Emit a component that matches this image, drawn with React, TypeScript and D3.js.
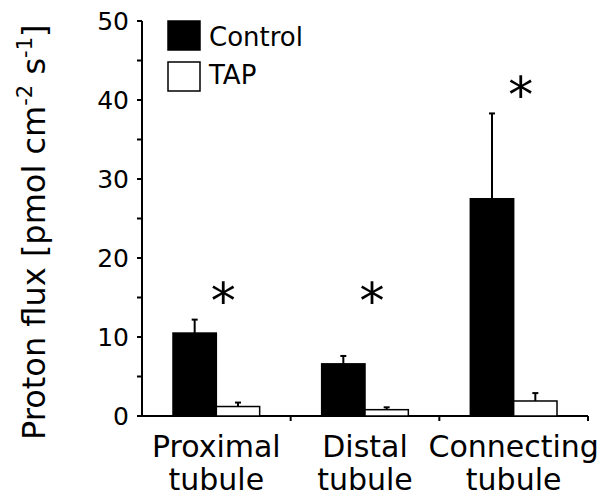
import React, { useEffect, useRef } from "react";
import * as d3 from "d3";

// chart values
const categories = ["Proximal tubule", "Distal tubule", "Connecting tubule"];
const groups = ["Control", "TAP"];
const controlMean = [10.5, 6.6, 27.5];
const controlErr = [1.7, 1.0, 10.8];
const tapMean = [1.2, 0.8, 1.9];
const tapErr = [0.5, 0.3, 1.0];
// where the significance stars sit (in data units)
const starLevel = [15.7, 15.7, 41.8];
const yTicks = [0, 10, 20, 30, 40, 50];

const FONT = "DejaVu Sans, Verdana, sans-serif";

const App = () => {
    const ref = useRef<SVGSVGElement>(null);

    useEffect(() => {
        const svg = d3.select(ref.current);
        svg.selectAll("*").remove();

        const left = 142, right = 588, top = 21, bottom = 416;

        const x = d3.scaleBand().domain(categories).range([left, right]);
        const inner = d3.scaleBand().domain(groups).range([31, x.bandwidth() - 31]);
        const y = d3.scaleLinear().domain([0, 50]).range([bottom, top]);

        // y axis line + ticks
        svg.append("line")
            .attr("x1", left).attr("x2", left)
            .attr("y1", y(50)).attr("y2", y(0))
            .attr("stroke", "#000").attr("stroke-width", 2);
        const minor = d3.range(0, 51, 5);
        svg.append("g").selectAll("line")
            .data(minor)
            .enter().append("line")
            .attr("x1", left - 5).attr("x2", left)
            .attr("y1", d => y(d)).attr("y2", d => y(d))
            .attr("stroke", "#000").attr("stroke-width", 2);
        svg.append("g").selectAll("text")
            .data(yTicks)
            .enter().append("text")
            .attr("x", left - 13)
            .attr("y", d => y(d) + 9)
            .attr("text-anchor", "end")
            .attr("font-family", FONT)
            .attr("font-size", 25)
            .text(d => d);

        // x axis line + ticks
        svg.append("line")
            .attr("x1", left - 1).attr("x2", right)
            .attr("y1", bottom).attr("y2", bottom)
            .attr("stroke", "#000").attr("stroke-width", 2);
        svg.append("g").selectAll("line")
            .data(categories)
            .enter().append("line")
            .attr("x1", d => (x(d) as number) + x.bandwidth())
            .attr("x2", d => (x(d) as number) + x.bandwidth())
            .attr("y1", bottom).attr("y2", bottom + 5)
            .attr("stroke", "#000").attr("stroke-width", 2);

        // category labels (two lines)
        const lab = svg.append("g").selectAll("text")
            .data(categories)
            .enter().append("text")
            .attr("text-anchor", "middle")
            .attr("font-family", FONT)
            .attr("font-size", 30);
        lab.append("tspan")
            .attr("x", d => (x(d) as number) + x.bandwidth() / 2)
            .attr("y", 457)
            .text(d => d.split(" ")[0]);
        lab.append("tspan")
            .attr("x", d => (x(d) as number) + x.bandwidth() / 2)
            .attr("y", 490)
            .text(d => d.split(" ")[1]);

        const series = [
            { name: "Control", mean: controlMean, err: controlErr, fill: "#000" },
            { name: "TAP", mean: tapMean, err: tapErr, fill: "#fff" },
        ];

        series.forEach(s => {
            const g = svg.append("g");
            categories.forEach((c, i) => {
                const bx = (x(c) as number) + (inner(s.name) as number);
                const cx = bx + inner.bandwidth() / 2;
                // error bar
                g.append("line")
                    .attr("x1", cx).attr("x2", cx)
                    .attr("y1", y(s.mean[i])).attr("y2", y(s.mean[i] + s.err[i]))
                    .attr("stroke", "#000").attr("stroke-width", 2);
                g.append("line")
                    .attr("x1", cx - 3).attr("x2", cx + 3)
                    .attr("y1", y(s.mean[i] + s.err[i])).attr("y2", y(s.mean[i] + s.err[i]))
                    .attr("stroke", "#000").attr("stroke-width", 2);
                g.append("rect")
                    .attr("x", bx).attr("y", y(s.mean[i]))
                    .attr("width", inner.bandwidth())
                    .attr("height", y(0) - y(s.mean[i]))
                    .attr("fill", s.fill)
                    .attr("stroke", "#000").attr("stroke-width", 1.5);
            });
        });

        // significance asterisks
        categories.forEach((c, i) => {
            svg.append("text")
                .attr("x", (x(c) as number) + x.bandwidth() / 2 + 7)
                .attr("y", y(starLevel[i]) + 26)
                .attr("text-anchor", "middle")
                .attr("font-family", FONT)
                .attr("font-size", 50)
                .text("*");
        });

        // legend
        const legend = svg.append("g");
        series.forEach((s, i) => {
            legend.append("rect")
                .attr("x", 168).attr("y", 21 + i * 41)
                .attr("width", 32).attr("height", 29)
                .attr("fill", s.fill)
                .attr("stroke", "#000").attr("stroke-width", 1.5);
            legend.append("text")
                .attr("x", 209).attr("y", 46 + i * 38)
                .attr("font-family", FONT)
                .attr("font-size", 26)
                .text(s.name);
        });

        // y axis title
        const t = svg.append("text")
            .attr("transform", "translate(45,440) rotate(-90)")
            .attr("font-family", FONT)
            .attr("font-size", 32);
        t.append("tspan").text("Proton flux [pmol cm");
        t.append("tspan").attr("font-size", 21).attr("dy", -13).text("-2");
        t.append("tspan").attr("dy", 13).text(" s");
        t.append("tspan").attr("font-size", 21).attr("dy", -13).text("-1");
        t.append("tspan").attr("dy", 13).text("]");
    }, []);

    return (
        <svg ref={ref} width={608} height={501}
            style={{ position: "absolute", left: 0, top: 0, background: "#fff" }} />
    );
};

export default App;
